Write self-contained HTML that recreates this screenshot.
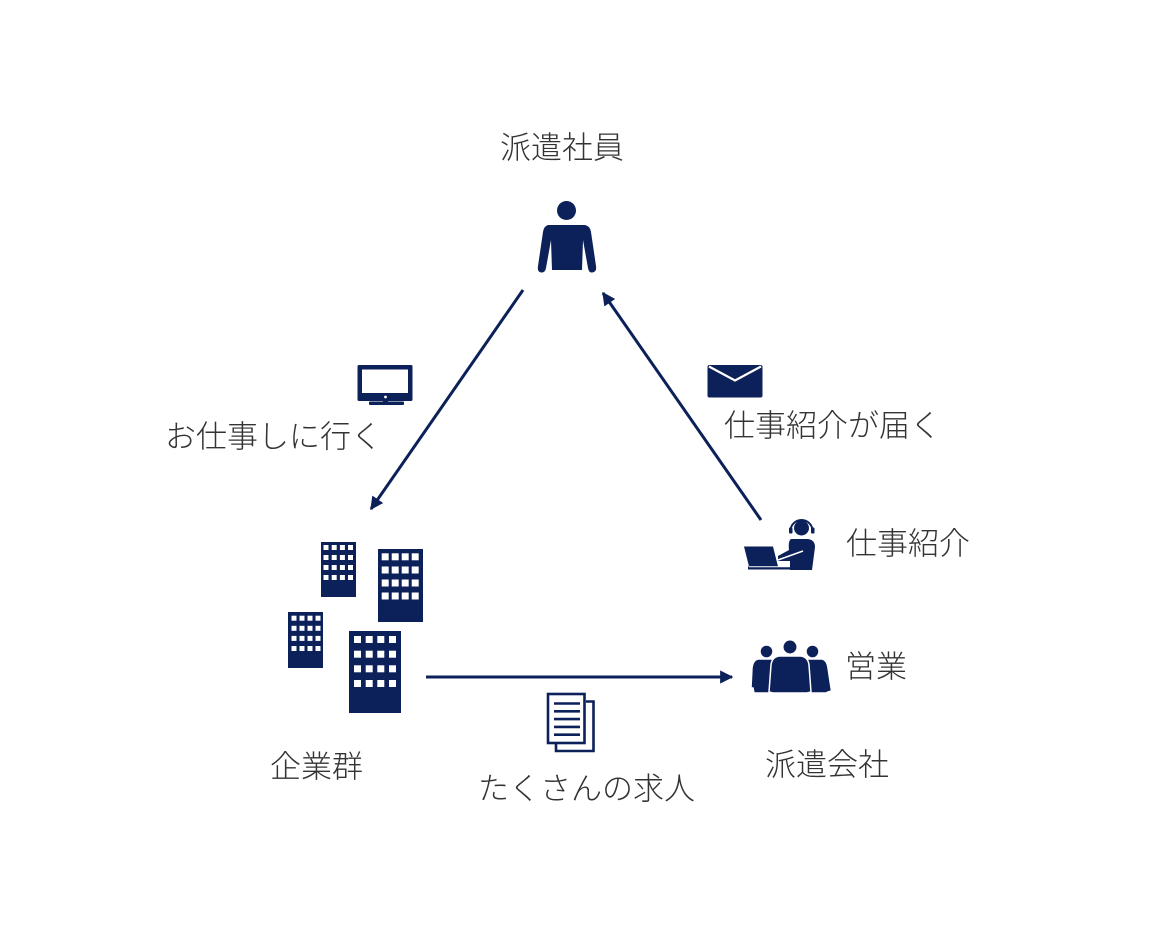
<!DOCTYPE html>
<html>
<head>
<meta charset="utf-8">
<style>
html,body{margin:0;padding:0;background:#fff;}
svg{display:block;}
text{font-family:"Liberation Sans","Noto Sans CJK JP",sans-serif;font-size:31px;fill:#333;font-weight:300;}
</style>
</head>
<body>
<svg width="1170" height="947" viewBox="0 0 1170 947" xmlns="http://www.w3.org/2000/svg">
<defs>
  <marker id="ah" viewBox="0 0 10 10" refX="9" refY="5" markerWidth="4.4" markerHeight="4.4" orient="auto" markerUnits="strokeWidth">
    <path d="M0,0 L10,5 L0,10 z" fill="#0c2059"/>
  </marker>
</defs>

<!-- labels -->
<text x="500" y="148" dominant-baseline="central">派遣社員</text>
<text x="165" y="437" dominant-baseline="central">お仕事しに行く</text>
<text x="724" y="426" dominant-baseline="central">仕事紹介が届く</text>
<text x="846" y="544" dominant-baseline="central">仕事紹介</text>
<text x="845" y="667" dominant-baseline="central">営業</text>
<text x="270" y="767" dominant-baseline="central">企業群</text>
<text x="478" y="789" dominant-baseline="central">たくさんの求人</text>
<text x="765" y="765" dominant-baseline="central">派遣会社</text>

<!-- arrows -->
<g stroke="#0c2059" stroke-width="3" fill="none" stroke-linecap="butt">
  <line x1="523" y1="290" x2="371" y2="509" marker-end="url(#ah)"/>
  <line x1="761" y1="520" x2="603" y2="293" marker-end="url(#ah)"/>
  <line x1="426" y1="677" x2="732" y2="677" marker-end="url(#ah)"/>
</g>

<g fill="#0c2059">
  <!-- person top -->
  <circle cx="566.5" cy="210.5" r="9.5"/>
  <path d="M548,225 L585,225 Q590,226 591,232 L596,266 Q597,272 592,272.5 Q589,273 588,268 L583,240 L582,270 L552,270 L551,240 L546,268 Q545,273 541,272.5 Q537,272 538,266 L543,232 Q544,226 548,225 Z"/>

  <!-- monitor -->
  <rect x="357.5" y="365" width="55" height="36" rx="1.5"/>
  <rect x="362" y="369.5" width="46" height="23.5" fill="#fff"/>
  <circle cx="385.5" cy="397" r="1.4" fill="#fff"/>
  <rect x="383" y="400" width="5" height="3"/>
  <rect x="369" y="401.5" width="35" height="3.5" rx="1"/>

  <!-- envelope -->
  <rect x="707.5" y="365" width="55" height="32.5" rx="2"/>
  <polyline points="709,366.5 735,380.5 761,366.5" fill="none" stroke="#fff" stroke-width="2.2"/>

  <!-- buildings -->
  <rect x="321" y="542" width="35" height="55"/>
  <rect x="378" y="549" width="45" height="73"/>
  <rect x="288" y="612" width="35" height="56"/>
  <rect x="349" y="631" width="52" height="82"/>
</g>

<!-- building windows -->
<g fill="#fff">
  <g>
    <rect x="323.5" y="545" width="5" height="5"/><rect x="331.7" y="545" width="5" height="5"/><rect x="339.9" y="545" width="5" height="5"/><rect x="348" y="545" width="5" height="5"/>
    <rect x="323.5" y="555" width="5" height="5"/><rect x="331.7" y="555" width="5" height="5"/><rect x="339.9" y="555" width="5" height="5"/><rect x="348" y="555" width="5" height="5"/>
    <rect x="323.5" y="565" width="5" height="5"/><rect x="331.7" y="565" width="5" height="5"/><rect x="339.9" y="565" width="5" height="5"/><rect x="348" y="565" width="5" height="5"/>
    <rect x="323.5" y="575" width="5" height="5"/><rect x="331.7" y="575" width="5" height="5"/><rect x="339.9" y="575" width="5" height="5"/><rect x="348" y="575" width="5" height="5"/>
  </g>
  <g>
    <rect x="381.7" y="553.3" width="7" height="7"/><rect x="391.7" y="553.3" width="7" height="7"/><rect x="401.7" y="553.3" width="7" height="7"/><rect x="411.7" y="553.3" width="7" height="7"/>
    <rect x="381.7" y="566.5" width="7" height="7"/><rect x="391.7" y="566.5" width="7" height="7"/><rect x="401.7" y="566.5" width="7" height="7"/><rect x="411.7" y="566.5" width="7" height="7"/>
    <rect x="381.7" y="579.5" width="7" height="7"/><rect x="391.7" y="579.5" width="7" height="7"/><rect x="401.7" y="579.5" width="7" height="7"/><rect x="411.7" y="579.5" width="7" height="7"/>
    <rect x="381.7" y="592.5" width="7" height="7"/><rect x="391.7" y="592.5" width="7" height="7"/><rect x="401.7" y="592.5" width="7" height="7"/><rect x="411.7" y="592.5" width="7" height="7"/>
  </g>
  <g>
    <rect x="291.5" y="615.7" width="5" height="5"/><rect x="299.5" y="615.7" width="5" height="5"/><rect x="307.5" y="615.7" width="5" height="5"/><rect x="315.5" y="615.7" width="5" height="5"/>
    <rect x="291.5" y="625.8" width="5" height="5"/><rect x="299.5" y="625.8" width="5" height="5"/><rect x="307.5" y="625.8" width="5" height="5"/><rect x="315.5" y="625.8" width="5" height="5"/>
    <rect x="291.5" y="635.9" width="5" height="5"/><rect x="299.5" y="635.9" width="5" height="5"/><rect x="307.5" y="635.9" width="5" height="5"/><rect x="315.5" y="635.9" width="5" height="5"/>
    <rect x="291.5" y="646" width="5" height="5"/><rect x="299.5" y="646" width="5" height="5"/><rect x="307.5" y="646" width="5" height="5"/><rect x="315.5" y="646" width="5" height="5"/>
  </g>
  <g>
    <rect x="354" y="636" width="7" height="7"/><rect x="365.7" y="636" width="7" height="7"/><rect x="377.3" y="636" width="7" height="7"/><rect x="389" y="636" width="7" height="7"/>
    <rect x="354" y="650.7" width="7" height="7"/><rect x="365.7" y="650.7" width="7" height="7"/><rect x="377.3" y="650.7" width="7" height="7"/><rect x="389" y="650.7" width="7" height="7"/>
    <rect x="354" y="665.3" width="7" height="7"/><rect x="365.7" y="665.3" width="7" height="7"/><rect x="377.3" y="665.3" width="7" height="7"/><rect x="389" y="665.3" width="7" height="7"/>
    <rect x="354" y="680" width="7" height="7"/><rect x="365.7" y="680" width="7" height="7"/><rect x="377.3" y="680" width="7" height="7"/><rect x="389" y="680" width="7" height="7"/>
  </g>
</g>

<!-- document icon -->
<g fill="none" stroke="#0c2059" stroke-width="2.6">
  <polyline points="586,701.5 593.5,701.5 593.5,751 556,751 556,744"/>
  <rect x="548" y="694" width="36.5" height="49" fill="#fff"/>
</g>
<g stroke="#0c2059" stroke-width="2.6">
  <line x1="554" y1="703.5" x2="580" y2="703.5"/>
  <line x1="554" y1="711.3" x2="580" y2="711.3"/>
  <line x1="554" y1="719.1" x2="580" y2="719.1"/>
  <line x1="554" y1="726.9" x2="580" y2="726.9"/>
  <line x1="554" y1="734.7" x2="580" y2="734.7"/>
</g>

<!-- headset operator -->
<g fill="#0c2059">
  <circle cx="801.5" cy="528" r="7.5"/>
  <path d="M790.5,531 A11,11 0 0 1 812.5,531" fill="none" stroke="#0c2059" stroke-width="2"/>
  <rect x="789" y="527.5" width="3.5" height="6" rx="1"/>
  <rect x="811" y="527.5" width="3.5" height="6" rx="1"/>
  <path d="M791,539 L808,539 Q815,540 815,547 L812,570 L790,570 L790,561 L778,561 L778,556 L789,550 Q788,541 791,539 Z"/>
  <line x1="778" y1="560" x2="803" y2="551" stroke="#fff" stroke-width="1.5"/>
  <path d="M744,546.5 L773,546.5 L778,566.5 L749,566.5 Z"/>
  <rect x="748" y="566.5" width="64" height="3"/>
  <line x1="749" y1="566.8" x2="790" y2="566.8" stroke="#fff" stroke-width="1"/>
</g>

<!-- group of people -->
<g fill="#0c2059" stroke="#fff" stroke-width="1.5">
  <circle cx="766.5" cy="651.5" r="6.5"/>
  <circle cx="812.5" cy="651.5" r="6.5"/>
  <path d="M758,659 L776,659 Q782,660 782,667 L780,693 L754,693 L753,688 L751,688 L752,668 Q753,660 758,659 Z"/>
  <path d="M804,659 L822,659 Q827,660 828,668 L831.5,691 L828,692 L826,693 L800,693 L798,667 Q798,660 804,659 Z"/>
  <circle cx="790" cy="647" r="7.2"/>
  <path d="M779,656 L801,656 Q808,657 809,665 L811,692 L807,693 L773,693 L769,692 L771,665 Q772,657 779,656 Z"/>
</g>
</svg>
</body>
</html>
